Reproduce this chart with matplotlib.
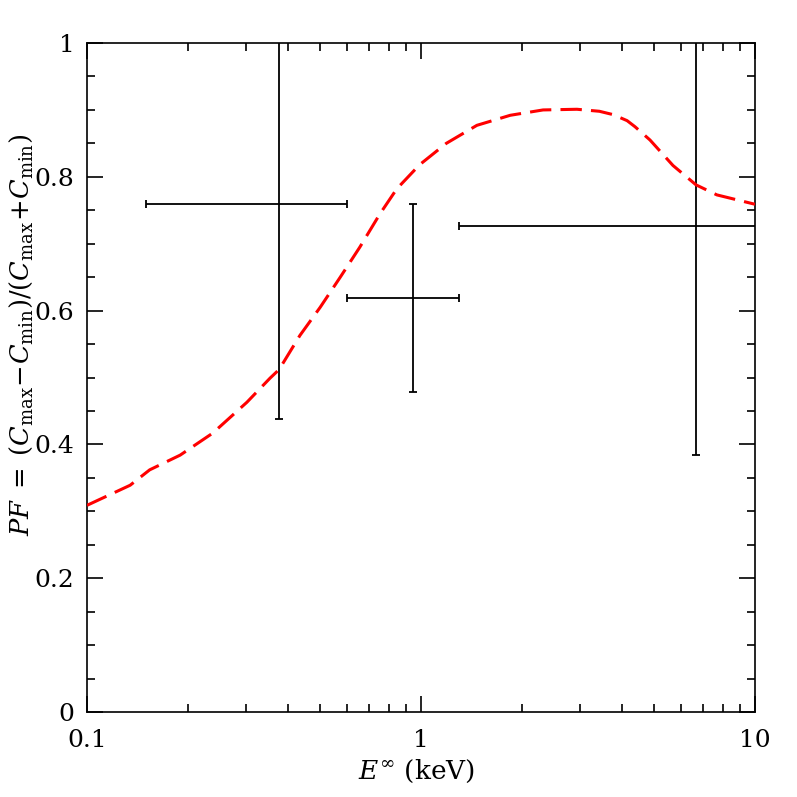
import numpy as np
import matplotlib.pyplot as plt
from matplotlib.ticker import FixedLocator, MultipleLocator

# Model curve (pulsed fraction vs energy)
curve_e = [0.1, 0.1346, 0.154, 0.190, 0.238, 0.301, 0.353, 0.376, 0.434, 0.499,
           0.573, 0.656, 0.752, 0.846, 0.99, 1.19, 1.47, 1.85, 2.32, 2.93,
           3.42, 3.76, 4.14, 4.37, 4.85, 5.68, 6.66, 7.69, 10.0]
curve_pf = [0.309, 0.339, 0.362, 0.384, 0.417, 0.463, 0.499, 0.512, 0.563, 0.605,
            0.650, 0.695, 0.744, 0.782, 0.818, 0.850, 0.877, 0.892, 0.900, 0.901,
            0.898, 0.893, 0.884, 0.875, 0.855, 0.817, 0.788, 0.773, 0.759]

# Measured points
pt_e = [0.375, 0.948, 6.66]
pt_e_lo = [0.15, 0.6, 1.3]
pt_e_hi = [0.6, 1.3, 12.0]
pt_pf = [0.760, 0.619, 0.727]
pt_pf_lo = [0.4375, 0.479, 0.3846]
pt_pf_hi = [1.1, 0.759, 1.1]

yticks = [0, 0.2, 0.4, 0.6, 0.8, 1]
ytick_labels = ['0', '0.2', '0.4', '0.6', '0.8', '1']
xticks = [0.1, 1, 10]
xtick_labels = ['0.1', '1', '10']

plt.rcParams['font.family'] = 'DejaVu Serif'
plt.rcParams['mathtext.fontset'] = 'dejavuserif'

fig = plt.figure(figsize=(7.97, 7.97), dpi=100)
ax = fig.add_axes([0.1092, 0.1066, 0.8381, 0.8394])

ax.plot(curve_e, curve_pf, color='red', lw=2.2, linestyle=(0, (7, 3)), zorder=3)

e = np.array(pt_e)
pf = np.array(pt_pf)
xerr = [e - np.array(pt_e_lo), np.array(pt_e_hi) - e]
yerr = [pf - np.array(pt_pf_lo), np.array(pt_pf_hi) - pf]
ax.errorbar(e, pf, xerr=xerr, yerr=yerr, fmt='none', ecolor='black',
            elinewidth=1.3, capsize=3, capthick=1.3, zorder=2)

ax.set_xscale('log')
ax.set_xlim(0.1, 10)
ax.set_ylim(0, 1)

ax.xaxis.set_major_locator(FixedLocator(xticks))
ax.set_xticklabels(xtick_labels)
minor_x = [m * d for d in [0.1, 1] for m in range(2, 10)]
ax.xaxis.set_minor_locator(FixedLocator(minor_x))
ax.set_yticks(yticks)
ax.set_yticklabels(ytick_labels)
ax.yaxis.set_minor_locator(MultipleLocator(0.05))

ax.tick_params(which='both', direction='in', top=True, right=True,
               labelsize=18, width=1.2)
ax.tick_params(which='major', length=11.5)
ax.tick_params(which='minor', length=5.5)
ax.tick_params(axis='x', which='major', pad=12)
ax.tick_params(axis='y', which='major', pad=9)
ax.xaxis.set_minor_formatter(plt.NullFormatter())
for s in ax.spines.values():
    s.set_linewidth(1.2)

ax.set_xlabel(r'$E^{\infty}$ (keV)', fontsize=19)
ax.xaxis.set_label_coords(0.494, -0.068)
ax.set_ylabel(r'$PF\;=\;(C_{\rm max}\!-\!C_{\rm min})/(C_{\rm max}\!+\!C_{\rm min})$',
              fontsize=18.5)
ax.yaxis.set_label_coords(-0.078, 0.5635)

fig.savefig('out.png', dpi=100)
